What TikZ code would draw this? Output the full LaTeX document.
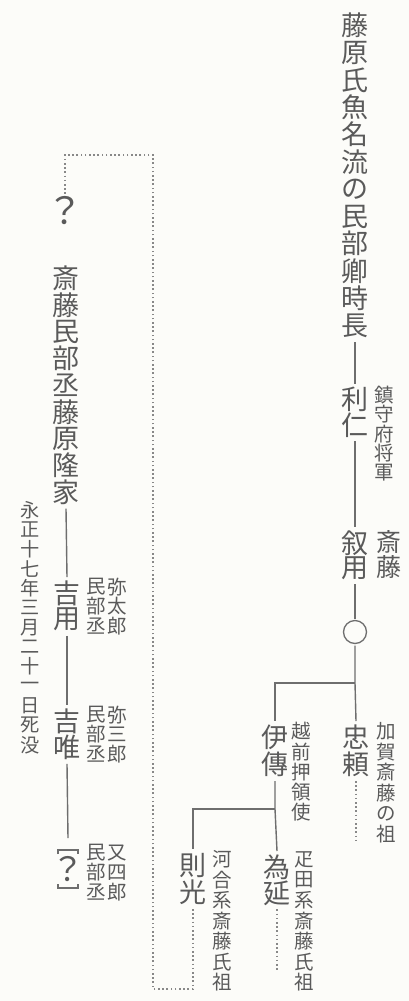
\documentclass[tikz,border=0pt]{standalone}
\usepackage{fontspec}
\newfontfamily\cjk{Noto Sans CJK JP}
\ExplSyntaxOn
\NewDocumentCommand\vt{O{1.0}m}{
  \vbox{\offinterlineskip
    \tl_map_inline:nn {#2} {\hbox_to_wd:nn{1em}{\hss\vbox_to_ht:nn{#1em}{\vss\hbox{##1}\vss}\hss}}
  }
}
\ExplSyntaxOff
\definecolor{txt}{HTML}{5A5A5A}
\definecolor{lin}{HTML}{6E6E6E}
\definecolor{dotc}{HTML}{888888}
\definecolor{bg}{HTML}{FCFCF9}
\tikzset{
  big/.style={inner sep=0pt, outer sep=3pt, anchor=north, text=txt, font=\cjk\fontsize{27}{27}\selectfont},
  mid/.style={inner sep=0pt, outer sep=3pt, anchor=north, text=txt, font=\cjk\fontsize{25}{25}\selectfont},
  sml/.style={inner sep=0pt, anchor=north, text=txt, font=\cjk\fontsize{19.5}{19.5}\selectfont},
  ln/.style={draw=lin, line width=1.4pt},
  dt/.style={draw=dotc, line width=1.6pt, dash pattern=on 1.6pt off 2.6pt},
  brk/.style={draw=lin, line width=1.4pt},
}
\begin{document}
\begin{tikzpicture}[x=1pt,y=-1pt]
\fill[bg] (0,0) rectangle (409,1001);
\useasboundingbox (0,0) rectangle (409,1001);
% main right column
\node[big] (toki) at (355,9) {\vt[1.01]{藤原氏魚名流の民部卿時長}};
\node[big] (toshi) at (355,384) {\vt[0.95]{利仁}};
\node[sml] (chin) at (384,385) {\vt[1.0]{鎮守府将軍}};
\node[big] (nobu) at (355,527) {\vt[0.95]{叙用}};
\node[mid] (sai) at (389,527) {\vt[1.0]{斎藤}};
\node[circle, draw=lin, line width=1.3pt, minimum size=23pt, inner sep=0pt, outer sep=2pt] (circ) at (355,632) {};
\node[big] (tada) at (356,721) {\vt[1.0]{忠頼}};
\node[sml] (kaga) at (386,721) {\vt[1.05]{加賀斎藤の祖}};
\node[big] (kore) at (275,721) {\vt[1.0]{伊傳}};
\node[sml] (echi) at (301,721) {\vt[1.04]{越前押領使}};
\node[big] (tame) at (277,851) {\vt[0.97]{為延}};
\node[sml] (hiki) at (304,849) {\vt[1.05]{疋田系斎藤氏祖}};
\node[big] (nori) at (193,849) {\vt[1.0]{則光}};
\node[sml] (kawa) at (222,849) {\vt[1.05]{河合系斎藤氏祖}};
\coordinate (br1) at (355,683);
\coordinate (br2) at (275,809);
\draw[ln] (toki.south) -- (toshi.north);
\draw[ln] (toshi.south) -- (nobu.north);
\draw[ln] (nobu.south) -- (circ.north);
\draw[ln] (circ.south) -- (br1) -- (tada.north);
\draw[ln] (br1) -| (kore.north);
\draw[ln] (kore.south) -- (br2) -- (tame.north);
\draw[ln] (br2) -| (nori.north);
\coordinate (tadaend) at (356,843);
\coordinate (tameend) at (277,972);
\draw[dt] (tada.south) -- (tadaend);
\draw[dt] (tame.south) -- (tameend);
% left column
\node[inner sep=0pt, outer sep=2pt, text=txt, font=\cjk\fontsize{37}{37}\selectfont] (q) at (65,211) {？};
\node[big] (taka) at (66,262) {\vt[0.99]{斎藤民部丞藤原隆家}};
\node[big] (yoshim) at (67,577) {\vt[0.98]{吉用}};
\node[sml] (m1) at (96,577) {\vt[1.0]{民部丞}};
\node[sml] (y1) at (117,577) {\vt[1.0]{弥太郎}};
\node[big] (yoshit) at (67,705) {\vt[0.98]{吉唯}};
\node[sml] (m2) at (96,705) {\vt[1.0]{民部丞}};
\node[sml] (y2) at (117,705) {\vt[1.0]{弥三郎}};
\node[inner sep=0pt, outer sep=12pt, minimum height=38pt, minimum width=22pt, text=txt, font=\cjk\fontsize{33}{33}\selectfont] (unk) at (68,869) {？};
\draw[brk] ([xshift=-10pt,yshift=15pt]unk.center) -- ++(0,-4) -- ++(20,0) -- ++(0,4);
\draw[brk] ([xshift=-10pt,yshift=-15pt]unk.center) -- ++(0,4) -- ++(20,0) -- ++(0,-4);
\node[sml] (m3) at (96,843) {\vt[1.0]{民部丞}};
\node[sml] (y3) at (117,843) {\vt[1.0]{又四郎}};
\node[sml, font=\cjk\fontsize{19.2}{19.2}\selectfont] (ei) at (30,500) {\vt[1.02]{永正十七年三月二十一日死没}};
\draw[ln] (taka.south) -- (yoshim.north);
\draw[ln] (yoshim.south) -- (yoshit.north);
\draw[ln] (yoshit.south) -- (unk.north);
% dotted link
\coordinate (c1) at (193,989);
\coordinate (c2) at (153,989);
\coordinate (c3) at (153,155);
\coordinate (c4) at (65,155);
\draw[dt] (nori.south) -- (c1) -- (c2) -- (c3) -- (c4) -- (q.north);
\end{tikzpicture}
\end{document}
